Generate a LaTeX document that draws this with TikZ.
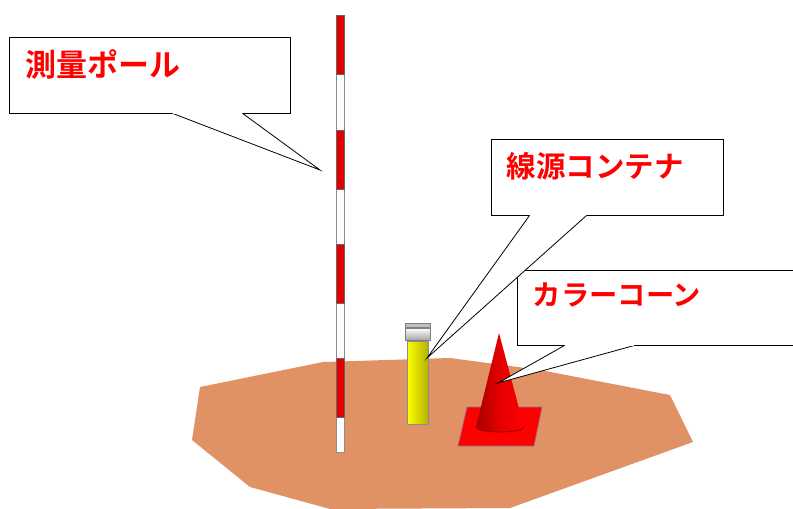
\documentclass[tikz,border=0pt]{standalone}
\usepackage{fontspec}
\newfontfamily\jpfont{Noto Sans CJK JP}[BoldFont={Noto Sans CJK JP Bold}]
\usetikzlibrary{positioning,calc}
\definecolor{soil}{RGB}{224,146,100}
\definecolor{polered}{RGB}{225,0,0}
\definecolor{labelred}{RGB}{255,0,0}
\definecolor{baseedge}{RGB}{130,120,160}
\tikzstyle{callbox}=[draw,fill=white,line width=0.8pt,inner sep=0pt]
\tikzstyle{callline}=[draw,line width=0.8pt,line join=miter]
\tikzstyle{calltext}=[text=labelred,font=\jpfont\bfseries\fontsize{29pt}{29pt}\selectfont,inner sep=0pt,anchor=base west]
\newcommand{\newBox}[4]{\node[callbox,minimum width=#3,minimum height=#4](#1) at #2 {};}
\newcommand{\newTail}[4]{%
  \draw[callline,fill=white] ($(#1.south west)+(#3,0)$) -- (#2) -- ($(#1.south west)+(#4,0)$);
  \draw[white,line width=1.4pt] ($(#1.south west)+(#3+0.7,0)$) -- ($(#1.south west)+(#4-0.7,0)$);}

\begin{document}
\begin{tikzpicture}[x=1pt,y=-1pt]
    \useasboundingbox (0,0) rectangle (793,509);
    % ground
    \path[fill=soil] (200,387) -- (323,362) -- (450,358) -- (540,370) -- (670,395)
      -- (693,442) -- (560,490) -- (510,508) -- (330,509) -- (250,487) -- (192,440) -- cycle;
    % pole
    \draw[fill=white,draw=black!45,line width=0.8pt] (336,15) rectangle (344,452);
    \foreach \t in {15,130,244,358}
      \draw[fill=polered,draw=black!60,line width=0.6pt] (336,\t) rectangle (344,\t+59);
    % source container
    \draw[draw=black!45,line width=0.7pt,left color=yellow,middle color=yellow,right color=yellow!70!black]
      (407,341) rectangle (428,424);
    \draw[draw=black!50,line width=0.6pt,top color=white,bottom color=black!35] (405,328) rectangle (430,340);
    \draw[draw=black!50,line width=0.6pt,fill=black!25] (405,323) rectangle (430,327);
    % cone
    \draw[fill=red,draw=baseedge,line width=0.6pt] (467,407) -- (542,407) -- (534,446) -- (458,446) -- cycle;
    \shade[left color=red!65!black,right color=red,middle color=red!90!black]
      (499,333) -- (476,427) arc[start angle=180,end angle=0,x radius=24,y radius=5] -- cycle;
    \draw[red!55!black,line width=0.8pt] (476,427) arc[start angle=180,end angle=0,x radius=24,y radius=5];
    % tips of the tails
    \coordinate (poletip) at (320,170);
    \coordinate (sourcetip) at (427,358);
    \coordinate (conetip) at (498,383);
    % callouts
    \newBox{conebox}{(658.5,307.5)}{283}{75}
    \newTail{conebox}{conetip}{48}{118}
    \node[calltext,font=\jpfont\bfseries\fontsize{28.3pt}{28.3pt}\selectfont] (conetext)
      at ([shift={(16,36)}]conebox.north west) {カラーコーン};
    \newBox{sourcebox}{(607,177)}{232}{76}
    \newTail{sourcebox}{sourcetip}{39}{96}
    \node[calltext,font=\jpfont\bfseries\fontsize{29.5pt}{29.5pt}\selectfont] (sourcetext)
      at ([shift={(16,39)}]sourcebox.north west) {線源コンテナ};
    \newBox{polebox}{(149.5,75)}{281}{76}
    \newTail{polebox}{poletip}{164}{234}
    \node[calltext,font=\jpfont\bfseries\fontsize{31pt}{31pt}\selectfont] (poletext)
      at ([shift={(16.5,40)}]polebox.north west) {測量ポール};
\end{tikzpicture}
\end{document}
